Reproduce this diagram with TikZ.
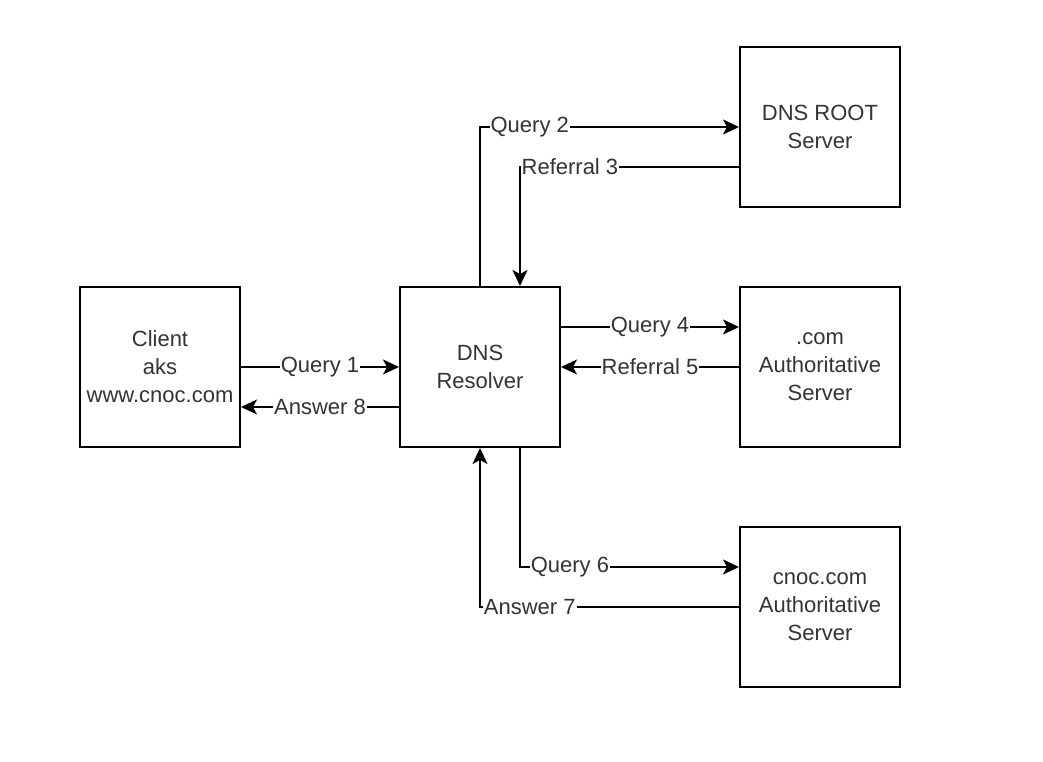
\documentclass[tikz,border=0pt]{standalone}
\usepackage{fontspec}
\setmainfont{Liberation Sans}
\usetikzlibrary{arrows.meta}
\definecolor{txt}{HTML}{333333}
\begin{document}
\begin{tikzpicture}[x=1pt,y=-1pt,
 box/.style={draw,line width=2pt,minimum width=160pt,minimum height=160pt,inner sep=0pt,text=txt,align=center,font=\fontsize{22}{28}\selectfont},
 lbl/.style={fill=white,inner sep=1pt,text=txt,font=\fontsize{22}{26}\selectfont},
 conn/.style={line width=2pt,-{Stealth[length=16pt,width=15pt,inset=4pt]}}]
\useasboundingbox (0,0) rectangle (1043,762);
\node[box] (client) at (160,367) {Client\\aks\\www.cnoc.com};
\node[box] (resolver) at (480,367) {DNS\\Resolver};
\node[box] (root) at (820,127) {DNS ROOT\\Server};
\node[box] (com) at (820,367) {.com\\Authoritative\\Server};
\node[box] (cnoc) at (820,607) {cnoc.com\\Authoritative\\Server};

\draw[conn] (client.east) -- node[lbl]{Query 1} (resolver.west);
\draw[conn] ([yshift=-40pt]resolver.west) -- node[lbl]{Answer 8} ([yshift=-40pt]client.east);
\draw[conn] (resolver.north) |- node[lbl,pos=0.596]{Query 2} (root.west);
\draw[conn] ([yshift=-40pt]root.west) -| node[lbl,pos=0.386]{Referral 3} ([xshift=40pt]resolver.north);
\draw[conn] ([yshift=40pt]resolver.east) -- node[lbl]{Query 4} ([yshift=40pt]com.west);
\draw[conn] (com.west) -- node[lbl]{Referral 5} (resolver.east);
\draw[conn] ([xshift=40pt]resolver.south) |- node[lbl,pos=0.614]{Query 6} ([yshift=40pt]cnoc.west);
\draw[conn] (cnoc.west) -| node[lbl,pos=0.404]{Answer 7} (resolver.south);
\end{tikzpicture}
\end{document}
